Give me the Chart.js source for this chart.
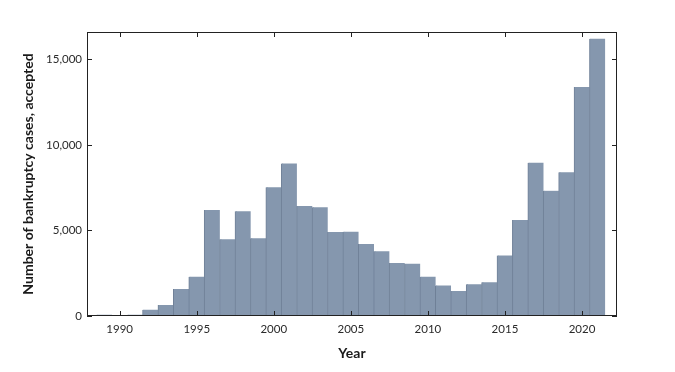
<!DOCTYPE html>
<html>
<head>
<meta charset="utf-8">
<script src="https://cdn.jsdelivr.net/npm/chart.js@4/dist/chart.umd.min.js"></script>
<style>
  html, body { margin: 0; padding: 0; background: #fff; }
  canvas { display: block; }
</style>
</head>
<body>
<canvas id="chart" width="675" height="372"></canvas>
<script>
// bankruptcy cases accepted, per year
const years = [1989, 1990, 1991, 1992, 1993, 1994, 1995, 1996, 1997, 1998, 1999, 2000, 2001, 2002, 2003, 2004, 2005,
    2006, 2007, 2008, 2009, 2010, 2011, 2012, 2013, 2014, 2015, 2016, 2017, 2018, 2019, 2020, 2021];
const cases = [80, 0, 80, 370, 640, 1580, 2300, 6200, 4480, 6120, 4540, 7520, 8920, 6430, 6350, 4910, 4930,
    4210, 3780, 3100, 3060, 2300, 1790, 1460, 1850, 1970, 3530, 5610, 8960, 7320, 8400, 13380, 16210];
const xTicks = [1990, 1995, 2000, 2005, 2010, 2015, 2020];
const yTicks = [0, 5000, 10000, 15000];

const points = [];
for (let i = 0; i < years.length; i++) {
    points.push({x: years[i], y: cases[i]});
}

// frame round the plot with ticks pointing inwards
const framePlugin = {
    id: 'frame',
    afterDraw(chart) {
        const ctx = chart.ctx;
        const a = chart.chartArea;
        const xs = chart.scales.x;
        const ys = chart.scales.y;
        const len = 5;
        ctx.save();
        ctx.strokeStyle = '#222';
        ctx.lineWidth = 1;
        ctx.strokeRect(Math.round(a.left) + 0.5, Math.round(a.top) + 0.5,
            Math.round(a.right - a.left) - 1, Math.round(a.bottom - a.top) - 1);
        ctx.beginPath();
        for (let i = 0; i < xTicks.length; i++) {
            const px = Math.round(xs.getPixelForValue(xTicks[i])) + 0.5;
            ctx.moveTo(px, a.bottom);
            ctx.lineTo(px, a.bottom - len);
            ctx.moveTo(px, a.top);
            ctx.lineTo(px, a.top + len);
        }
        for (let i = 0; i < yTicks.length; i++) {
            const py = Math.round(ys.getPixelForValue(yTicks[i])) + 0.5;
            ctx.moveTo(a.left, py);
            ctx.lineTo(a.left + len, py);
            ctx.moveTo(a.right, py);
            ctx.lineTo(a.right - len, py);
        }
        ctx.stroke();
        ctx.restore();
    }
};

const tickFont = {family: 'Lato', size: 11.5};
const titleFont = {family: 'Lato', size: 14, weight: 'bold'};

new Chart(document.getElementById('chart'), {
    type: 'bar',
    data: {
        datasets: [{
            label: 'Number of bankruptcy cases, accepted',
            data: points,
            backgroundColor: 'rgb(133, 151, 174)',
            borderColor: 'rgb(112, 129, 152)',
            borderWidth: {left: 1, right: 0, top: 0, bottom: 0},
            inflateAmount: 0.6,
            barPercentage: 1,
            categoryPercentage: 1
        }]
    },
    options: {
        responsive: false,
        animation: false,
        layout: {padding: {left: 0, right: 58, top: 32, bottom: 0}},
        plugins: {
            legend: {display: false},
            tooltip: {enabled: false}
        },
        scales: {
            x: {
                type: 'linear',
                position: 'bottom',
                offset: false,
                min: 1987.88,
                max: 2022.27,
                grid: {display: false, drawTicks: false},
                border: {display: false},
                afterBuildTicks: (scale) => { scale.ticks = xTicks.map(v => ({value: v})); },
                afterFit: (scale) => { scale.height = 56; },
                ticks: {
                    font: tickFont,
                    color: '#2a2a2a',
                    padding: 6,
                    autoSkip: false,
                    maxRotation: 0,
                    callback: (v) => String(v)
                },
                title: {
                    display: true,
                    text: 'Year',
                    font: titleFont,
                    color: '#1a1a1a',
                    padding: {top: 0, bottom: 10}
                }
            },
            y: {
                min: 0,
                max: 16600,
                grid: {display: false, drawTicks: false},
                border: {display: false},
                afterBuildTicks: (scale) => { scale.ticks = yTicks.map(v => ({value: v})); },
                afterFit: (scale) => { scale.width = 87; },
                ticks: {
                    font: tickFont,
                    color: '#2a2a2a',
                    padding: 5,
                    callback: (v) => v.toLocaleString('en-US')
                },
                title: {
                    display: true,
                    text: 'Number of bankruptcy cases, accepted',
                    font: titleFont,
                    color: '#1a1a1a',
                    padding: {top: 20, bottom: 0}
                }
            }
        }
    },
    plugins: [framePlugin]
});
</script>
</body>
</html>
